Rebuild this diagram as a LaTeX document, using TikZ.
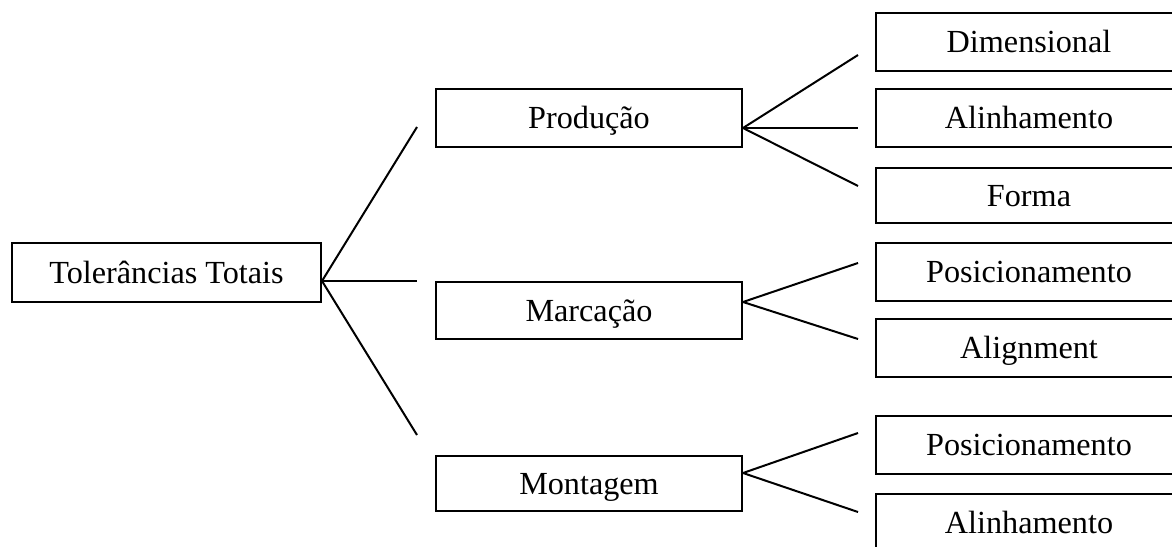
\documentclass[tikz,border=0pt]{standalone}
\usepackage{fontspec}
\setmainfont{Liberation Serif}
\tikzset{box/.style={draw,line width=1pt,minimum width=153pt,minimum height=29pt,
        inner sep=0pt,text height=10.5pt,text depth=0pt,
        font=\fontsize{16.1}{19}\selectfont},
    branch/.style={line width=1pt}
}

\begin{document}
\begin{tikzpicture}[x=0.5pt,y=-0.5pt]
    \useasboundingbox (0,0) rectangle (1172,546);
    \clip (0,0) rectangle (1172,546);

    % Root
    \node[box,minimum width=154.5pt,minimum height=29.5pt] (tot) at (166.5,272.5) {Tolerâncias Totais};

    % Second level
    \node[box] (prod) at (589,118) {Produção};
    \node[box,minimum height=28.5pt] (marc) at (589,310.5) {Marcação};
    \node[box,minimum height=27.5pt] (mont) at (589,483.5) {Montagem};

    % Third level
    \node[box] (dim) at (1029,42) {Dimensional};
    \node[box] (alin) at (1029,118) {Alinhamento};
    \node[box,minimum height=27.5pt] (forma) at (1029,195.5) {Forma};
    \node[box] (posA) at (1029,272) {Posicionamento};
    \node[box] (align) at (1029,348) {Alignment};
    \node[box] (posB) at (1029,445) {Posicionamento};
    \node[box] (alinB) at (1029,523) {Alinhamento};

    % Free ends of the branches
    \coordinate (tot-a) at (417,127);
    \coordinate (tot-b) at (417,281);
    \coordinate (tot-c) at (417,435);
    \coordinate (prod-a) at (858,55);
    \coordinate (prod-b) at (858,128);
    \coordinate (prod-c) at (858,186);
    \coordinate (marc-a) at (858,263);
    \coordinate (marc-b) at (858,339);
    \coordinate (mont-a) at (858,433);
    \coordinate (mont-b) at (858,512);

    % Branches
    \draw[branch] ([yshift=-4.25pt]tot.east) -- (tot-a);
    \draw[branch] ([yshift=-4.25pt]tot.east) -- (tot-b);
    \draw[branch] ([yshift=-4.25pt]tot.east) -- (tot-c);
    \draw[branch] ([yshift=-5pt]prod.east) -- (prod-a);
    \draw[branch] ([yshift=-5pt]prod.east) -- (prod-b);
    \draw[branch] ([yshift=-5pt]prod.east) -- (prod-c);
    \draw[branch] ([yshift=4.25pt]marc.east) -- (marc-a);
    \draw[branch] ([yshift=4.25pt]marc.east) -- (marc-b);
    \draw[branch] ([yshift=5.25pt]mont.east) -- (mont-a);
    \draw[branch] ([yshift=5.25pt]mont.east) -- (mont-b);
\end{tikzpicture}
\end{document}
